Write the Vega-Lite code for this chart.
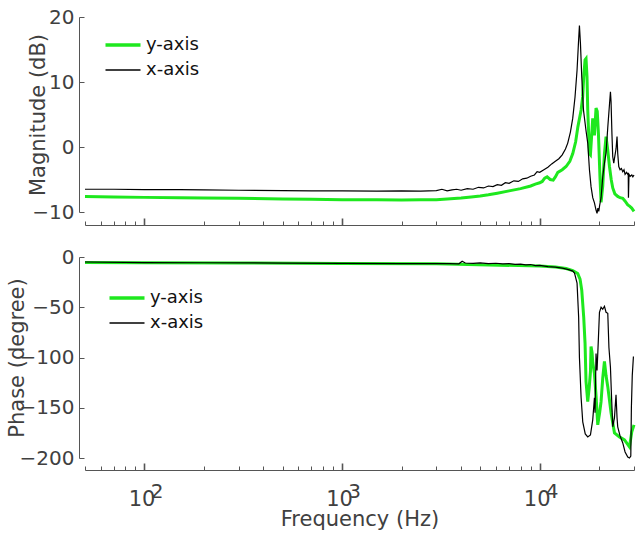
{
  "$schema": "https://vega.github.io/schema/vega-lite/v6.json",
  "padding": {"left": 6, "right": 1, "top": 7, "bottom": 2},
  "spacing": 21,
  "resolve": {"scale": {"color": "independent"}, "legend": {"color": "independent"}},
  "config": {
    "view": {"stroke": null},
    "font": "DejaVu Sans",
    "axis": {
      "grid": false,
      "domainColor": "#555555",
      "tickColor": "#555555",
      "labelColor": "#404040",
      "titleColor": "#404040",
      "labelFont": "DejaVu Sans",
      "titleFont": "DejaVu Sans",
      "titleFontWeight": "normal",
      "labelFontSize": 20,
      "titleFontSize": 21
    },
    "legend": {
      "orient": "none",
      "title": null,
      "symbolType": "stroke",
      "symbolSize": 1225,
      "labelFontSize": 18,
      "labelColor": "#111111",
      "labelFont": "DejaVu Sans",
      "padding": 0,
      "labelOffset": 14,
      "rowPadding": 7
    }
  },
  "datasets": {
    "mag": [
      {"s": "y-axis", "f": 50, "v": -7.6}, {"s": "y-axis", "f": 70, "v": -7.7}, {"s": "y-axis", "f": 100, "v": -7.75},
      {"s": "y-axis", "f": 150, "v": -7.8}, {"s": "y-axis", "f": 200, "v": -7.85}, {"s": "y-axis", "f": 300, "v": -7.9},
      {"s": "y-axis", "f": 500, "v": -8.0}, {"s": "y-axis", "f": 700, "v": -8.05}, {"s": "y-axis", "f": 1000, "v": -8.1},
      {"s": "y-axis", "f": 1500, "v": -8.1}, {"s": "y-axis", "f": 2000, "v": -8.15}, {"s": "y-axis", "f": 2500, "v": -8.1},
      {"s": "y-axis", "f": 3000, "v": -8.1}, {"s": "y-axis", "f": 3400, "v": -8.0}, {"s": "y-axis", "f": 4000, "v": -7.85},
      {"s": "y-axis", "f": 4500, "v": -7.7}, {"s": "y-axis", "f": 5000, "v": -7.55}, {"s": "y-axis", "f": 5500, "v": -7.35},
      {"s": "y-axis", "f": 6100, "v": -7.1}, {"s": "y-axis", "f": 7000, "v": -6.75}, {"s": "y-axis", "f": 8000, "v": -6.4},
      {"s": "y-axis", "f": 9000, "v": -6.0}, {"s": "y-axis", "f": 9500, "v": -5.7}, {"s": "y-axis", "f": 10000, "v": -5.5},
      {"s": "y-axis", "f": 10300, "v": -5.3}, {"s": "y-axis", "f": 10600, "v": -4.8}, {"s": "y-axis", "f": 10900, "v": -4.6},
      {"s": "y-axis", "f": 11300, "v": -5.0}, {"s": "y-axis", "f": 11700, "v": -5.1}, {"s": "y-axis", "f": 12000, "v": -4.6},
      {"s": "y-axis", "f": 12350, "v": -3.9}, {"s": "y-axis", "f": 13000, "v": -3.5}, {"s": "y-axis", "f": 13600, "v": -3.0},
      {"s": "y-axis", "f": 14200, "v": -2.2}, {"s": "y-axis", "f": 14700, "v": -1.0}, {"s": "y-axis", "f": 15200, "v": 0.8},
      {"s": "y-axis", "f": 15600, "v": 3.1}, {"s": "y-axis", "f": 16200, "v": 5.7}, {"s": "y-axis", "f": 16500, "v": 7.7},
      {"s": "y-axis", "f": 16700, "v": 10.8}, {"s": "y-axis", "f": 16960, "v": 13.4}, {"s": "y-axis", "f": 17155, "v": 13.6},
      {"s": "y-axis", "f": 17350, "v": 10.8}, {"s": "y-axis", "f": 17500, "v": 5.7}, {"s": "y-axis", "f": 17850, "v": -1.0},
      {"s": "y-axis", "f": 18060, "v": -1.2}, {"s": "y-axis", "f": 18550, "v": 4.4}, {"s": "y-axis", "f": 18920, "v": 1.8},
      {"s": "y-axis", "f": 19275, "v": 6.0}, {"s": "y-axis", "f": 19550, "v": 5.5}, {"s": "y-axis", "f": 19825, "v": 2.0},
      {"s": "y-axis", "f": 20200, "v": -5.0}, {"s": "y-axis", "f": 20440, "v": -8.5}, {"s": "y-axis", "f": 20845, "v": -6.0},
      {"s": "y-axis", "f": 21260, "v": -1.0}, {"s": "y-axis", "f": 21660, "v": 1.6}, {"s": "y-axis", "f": 22100, "v": -0.5},
      {"s": "y-axis", "f": 22540, "v": -3.0}, {"s": "y-axis", "f": 23000, "v": -5.0}, {"s": "y-axis", "f": 23420, "v": -6.3},
      {"s": "y-axis", "f": 24000, "v": -7.2}, {"s": "y-axis", "f": 24820, "v": -7.6}, {"s": "y-axis", "f": 25500, "v": -7.8},
      {"s": "y-axis", "f": 26320, "v": -7.9}, {"s": "y-axis", "f": 27000, "v": -8.3}, {"s": "y-axis", "f": 27900, "v": -8.9},
      {"s": "y-axis", "f": 28500, "v": -9.1}, {"s": "y-axis", "f": 29200, "v": -9.4}, {"s": "y-axis", "f": 30000, "v": -9.9},

      {"s": "x-axis", "f": 50, "v": -6.5}, {"s": "x-axis", "f": 70, "v": -6.5}, {"s": "x-axis", "f": 100, "v": -6.55},
      {"s": "x-axis", "f": 150, "v": -6.55}, {"s": "x-axis", "f": 200, "v": -6.6}, {"s": "x-axis", "f": 300, "v": -6.65},
      {"s": "x-axis", "f": 500, "v": -6.7}, {"s": "x-axis", "f": 700, "v": -6.75}, {"s": "x-axis", "f": 1000, "v": -6.75},
      {"s": "x-axis", "f": 1500, "v": -6.8}, {"s": "x-axis", "f": 2000, "v": -6.75}, {"s": "x-axis", "f": 2500, "v": -6.8},
      {"s": "x-axis", "f": 3000, "v": -6.7}, {"s": "x-axis", "f": 3200, "v": -6.5}, {"s": "x-axis", "f": 3400, "v": -6.75},
      {"s": "x-axis", "f": 3600, "v": -6.6}, {"s": "x-axis", "f": 3800, "v": -6.5}, {"s": "x-axis", "f": 4000, "v": -6.65},
      {"s": "x-axis", "f": 4300, "v": -6.4}, {"s": "x-axis", "f": 4600, "v": -6.5}, {"s": "x-axis", "f": 4900, "v": -6.2},
      {"s": "x-axis", "f": 5200, "v": -6.3}, {"s": "x-axis", "f": 5500, "v": -6.0}, {"s": "x-axis", "f": 5800, "v": -6.1},
      {"s": "x-axis", "f": 6100, "v": -5.8}, {"s": "x-axis", "f": 6400, "v": -5.9}, {"s": "x-axis", "f": 6700, "v": -5.5},
      {"s": "x-axis", "f": 7000, "v": -5.6}, {"s": "x-axis", "f": 7400, "v": -5.2}, {"s": "x-axis", "f": 7800, "v": -5.3},
      {"s": "x-axis", "f": 8200, "v": -4.9}, {"s": "x-axis", "f": 8600, "v": -4.8}, {"s": "x-axis", "f": 9000, "v": -4.5},
      {"s": "x-axis", "f": 9400, "v": -4.3}, {"s": "x-axis", "f": 9700, "v": -3.8}, {"s": "x-axis", "f": 10000, "v": -3.9},
      {"s": "x-axis", "f": 10500, "v": -3.5}, {"s": "x-axis", "f": 11000, "v": -3.1}, {"s": "x-axis", "f": 11500, "v": -2.6},
      {"s": "x-axis", "f": 12000, "v": -2.2}, {"s": "x-axis", "f": 12500, "v": -1.8}, {"s": "x-axis", "f": 13000, "v": -1.2},
      {"s": "x-axis", "f": 13500, "v": -0.3}, {"s": "x-axis", "f": 13861, "v": 0.6}, {"s": "x-axis", "f": 14300, "v": 2.3},
      {"s": "x-axis", "f": 14690, "v": 4.4}, {"s": "x-axis", "f": 15090, "v": 7.7}, {"s": "x-axis", "f": 15450, "v": 11.8},
      {"s": "x-axis", "f": 15700, "v": 15.9}, {"s": "x-axis", "f": 15885, "v": 18.7}, {"s": "x-axis", "f": 16075, "v": 15.9},
      {"s": "x-axis", "f": 16320, "v": 10.8}, {"s": "x-axis", "f": 16650, "v": 5.7}, {"s": "x-axis", "f": 17155, "v": 2.5},
      {"s": "x-axis", "f": 17500, "v": 0.6}, {"s": "x-axis", "f": 17850, "v": -3.5}, {"s": "x-axis", "f": 18185, "v": -6.1},
      {"s": "x-axis", "f": 18550, "v": -7.8}, {"s": "x-axis", "f": 18920, "v": -8.6}, {"s": "x-axis", "f": 19275, "v": -9.7},
      {"s": "x-axis", "f": 19505, "v": -10.2}, {"s": "x-axis", "f": 19700, "v": -9.4}, {"s": "x-axis", "f": 19900, "v": -9.9},
      {"s": "x-axis", "f": 20100, "v": -9.0}, {"s": "x-axis", "f": 20440, "v": -7.8}, {"s": "x-axis", "f": 20845, "v": -4.6},
      {"s": "x-axis", "f": 21260, "v": -2.5}, {"s": "x-axis", "f": 21660, "v": -0.9}, {"s": "x-axis", "f": 22100, "v": 3.0},
      {"s": "x-axis", "f": 22540, "v": 6.5}, {"s": "x-axis", "f": 22800, "v": 8.5}, {"s": "x-axis", "f": 22960, "v": 7.0},
      {"s": "x-axis", "f": 23200, "v": 2.0}, {"s": "x-axis", "f": 23420, "v": -1.5}, {"s": "x-axis", "f": 23700, "v": -2.5},
      {"s": "x-axis", "f": 23890, "v": -1.8}, {"s": "x-axis", "f": 24330, "v": -0.3}, {"s": "x-axis", "f": 24620, "v": 1.6},
      {"s": "x-axis", "f": 24820, "v": -1.0}, {"s": "x-axis", "f": 25120, "v": -3.0}, {"s": "x-axis", "f": 25500, "v": -3.5},
      {"s": "x-axis", "f": 25900, "v": -3.3}, {"s": "x-axis", "f": 26320, "v": -3.8}, {"s": "x-axis", "f": 26700, "v": -3.5},
      {"s": "x-axis", "f": 27040, "v": -4.2}, {"s": "x-axis", "f": 27500, "v": -3.9}, {"s": "x-axis", "f": 27900, "v": -4.2},
      {"s": "x-axis", "f": 28050, "v": -4.0}, {"s": "x-axis", "f": 28120, "v": -7.8}, {"s": "x-axis", "f": 28300, "v": -4.2},
      {"s": "x-axis", "f": 28700, "v": -4.5}, {"s": "x-axis", "f": 29240, "v": -4.3}, {"s": "x-axis", "f": 29600, "v": -4.6},
      {"s": "x-axis", "f": 30000, "v": -4.3}
    ],
    "phase": [
      {"s": "y-axis", "f": 50, "v": -5.5}, {"s": "y-axis", "f": 100, "v": -5.8}, {"s": "y-axis", "f": 300, "v": -6.0},
      {"s": "y-axis", "f": 1000, "v": -6.5}, {"s": "y-axis", "f": 3000, "v": -6.7}, {"s": "y-axis", "f": 10000, "v": -9.0},
      {"s": "y-axis", "f": 12000, "v": -10.0}, {"s": "y-axis", "f": 13600, "v": -11.5}, {"s": "y-axis", "f": 14700, "v": -13.5},
      {"s": "y-axis", "f": 15575, "v": -16.5}, {"s": "y-axis", "f": 16000, "v": -22}, {"s": "y-axis", "f": 16320, "v": -33},
      {"s": "y-axis", "f": 16700, "v": -60}, {"s": "y-axis", "f": 16960, "v": -86}, {"s": "y-axis", "f": 17155, "v": -124},
      {"s": "y-axis", "f": 17500, "v": -144}, {"s": "y-axis", "f": 17800, "v": -130}, {"s": "y-axis", "f": 18060, "v": -114},
      {"s": "y-axis", "f": 18185, "v": -89}, {"s": "y-axis", "f": 18400, "v": -95}, {"s": "y-axis", "f": 18550, "v": -105},
      {"s": "y-axis", "f": 18920, "v": -116}, {"s": "y-axis", "f": 19275, "v": -138}, {"s": "y-axis", "f": 19665, "v": -167},
      {"s": "y-axis", "f": 20100, "v": -155}, {"s": "y-axis", "f": 20440, "v": -144}, {"s": "y-axis", "f": 20850, "v": -120},
      {"s": "y-axis", "f": 21260, "v": -104}, {"s": "y-axis", "f": 21660, "v": -118}, {"s": "y-axis", "f": 22100, "v": -129},
      {"s": "y-axis", "f": 22960, "v": -155}, {"s": "y-axis", "f": 23890, "v": -175}, {"s": "y-axis", "f": 25320, "v": -179},
      {"s": "y-axis", "f": 26850, "v": -182}, {"s": "y-axis", "f": 28460, "v": -189}, {"s": "y-axis", "f": 29240, "v": -174},
      {"s": "y-axis", "f": 30000, "v": -167},

      {"s": "x-axis", "f": 50, "v": -5.0}, {"s": "x-axis", "f": 100, "v": -5.5}, {"s": "x-axis", "f": 200, "v": -5.7},
      {"s": "x-axis", "f": 500, "v": -6.0}, {"s": "x-axis", "f": 1000, "v": -6.3}, {"s": "x-axis", "f": 2000, "v": -6.5},
      {"s": "x-axis", "f": 3000, "v": -6.5}, {"s": "x-axis", "f": 3500, "v": -6.5}, {"s": "x-axis", "f": 3900, "v": -6.8},
      {"s": "x-axis", "f": 4050, "v": -4.2}, {"s": "x-axis", "f": 4200, "v": -6.0}, {"s": "x-axis", "f": 4600, "v": -6.3},
      {"s": "x-axis", "f": 5000, "v": -5.8}, {"s": "x-axis", "f": 5500, "v": -6.6}, {"s": "x-axis", "f": 6000, "v": -6.2},
      {"s": "x-axis", "f": 6500, "v": -6.9}, {"s": "x-axis", "f": 7000, "v": -6.5}, {"s": "x-axis", "f": 7500, "v": -7.3},
      {"s": "x-axis", "f": 8000, "v": -7.0}, {"s": "x-axis", "f": 8500, "v": -7.8}, {"s": "x-axis", "f": 9000, "v": -7.5},
      {"s": "x-axis", "f": 9500, "v": -8.5}, {"s": "x-axis", "f": 10000, "v": -8.3}, {"s": "x-axis", "f": 11000, "v": -9.5},
      {"s": "x-axis", "f": 12000, "v": -10}, {"s": "x-axis", "f": 13000, "v": -11}, {"s": "x-axis", "f": 14000, "v": -12.5},
      {"s": "x-axis", "f": 14700, "v": -14}, {"s": "x-axis", "f": 15000, "v": -16}, {"s": "x-axis", "f": 15450, "v": -26},
      {"s": "x-axis", "f": 15740, "v": -60}, {"s": "x-axis", "f": 15885, "v": -100}, {"s": "x-axis", "f": 16200, "v": -140},
      {"s": "x-axis", "f": 16510, "v": -164}, {"s": "x-axis", "f": 17000, "v": -176}, {"s": "x-axis", "f": 17500, "v": -179},
      {"s": "x-axis", "f": 18060, "v": -177}, {"s": "x-axis", "f": 18550, "v": -162}, {"s": "x-axis", "f": 18920, "v": -140},
      {"s": "x-axis", "f": 19055, "v": -155}, {"s": "x-axis", "f": 19275, "v": -96}, {"s": "x-axis", "f": 19505, "v": -113},
      {"s": "x-axis", "f": 19825, "v": -80}, {"s": "x-axis", "f": 20060, "v": -55}, {"s": "x-axis", "f": 20440, "v": -50},
      {"s": "x-axis", "f": 20845, "v": -52}, {"s": "x-axis", "f": 21260, "v": -49}, {"s": "x-axis", "f": 21660, "v": -55},
      {"s": "x-axis", "f": 22100, "v": -56}, {"s": "x-axis", "f": 22400, "v": -90}, {"s": "x-axis", "f": 22800, "v": -110},
      {"s": "x-axis", "f": 23100, "v": -140}, {"s": "x-axis", "f": 23420, "v": -169}, {"s": "x-axis", "f": 23890, "v": -160},
      {"s": "x-axis", "f": 24330, "v": -137}, {"s": "x-axis", "f": 24620, "v": -160}, {"s": "x-axis", "f": 24820, "v": -169},
      {"s": "x-axis", "f": 25500, "v": -178}, {"s": "x-axis", "f": 26320, "v": -185}, {"s": "x-axis", "f": 27040, "v": -194},
      {"s": "x-axis", "f": 27900, "v": -199}, {"s": "x-axis", "f": 28460, "v": -200}, {"s": "x-axis", "f": 28900, "v": -198},
      {"s": "x-axis", "f": 29100, "v": -150}, {"s": "x-axis", "f": 29400, "v": -118}, {"s": "x-axis", "f": 29800, "v": -99}
    ]
  },
  "vconcat": [
    {
      "width": 549,
      "height": 195,
      "data": {"name": "mag"},
      "encoding": {
        "x": {
          "field": "f", "type": "quantitative",
          "scale": {"type": "log", "domain": [50, 30000]},
          "axis": {
            "title": null, "labels": false, "offset": 13,
            "values": [50,60,70,80,90,100,200,300,400,500,600,700,800,900,1000,2000,3000,4000,5000,6000,7000,8000,9000,10000,20000,30000],
            "tickSize": {"condition": {"test": "datum.value == 100 || datum.value == 1000 || datum.value == 10000", "value": -7}, "value": -4},
            "tickWidth": {"condition": {"test": "datum.value == 100 || datum.value == 1000 || datum.value == 10000", "value": 1.6}, "value": 1}
          }
        },
        "y": {
          "field": "v", "type": "quantitative",
          "scale": {"domain": [-10, 20], "nice": false, "zero": false},
          "axis": {"values": [-10, 0, 10, 20], "offset": 6, "tickSize": -5, "labelPadding": 10, "title": "Magnitude (dB)", "titlePadding": -17}
        },
        "color": {
          "field": "s", "type": "nominal",
          "scale": {"domain": ["y-axis", "x-axis"], "range": ["#1ee81e", "#000000"]},
          "legend": {
            "legendX": 29, "legendY": 19,
            "encode": {"symbols": {"update": {"strokeWidth": {"signal": "datum.value === 'y-axis' ? 3.5 : 1.3"}}}}
          }
        }
      },
      "layer": [
        {"transform": [{"filter": "datum.s === 'y-axis'"}], "mark": {"type": "line", "strokeWidth": 3}},
        {"transform": [{"filter": "datum.s === 'x-axis'"}], "mark": {"type": "line", "strokeWidth": 1.2}}
      ]
    },
    {
      "width": 549,
      "height": 201,
      "data": {"name": "phase"},
      "resolve": {"axis": {"x": "independent"}},
      "layer": [
        {
          "transform": [{"filter": "datum.s === 'y-axis'"}],
          "mark": {"type": "line", "strokeWidth": 3},
          "encoding": {
            "x": {
              "field": "f", "type": "quantitative",
              "scale": {"type": "log", "domain": [50, 30000]},
              "axis": {
                "orient": "bottom", "title": "Frequency (Hz)", "titleFontSize": 21, "titlePadding": -4, "offset": 12,
                "values": [50,60,70,80,90,100,200,300,400,500,600,700,800,900,1000,2000,3000,4000,5000,6000,7000,8000,9000,10000,20000,30000],
                "labelExpr": "datum.value == 100 || datum.value == 1000 || datum.value == 10000 ? '10' : ''",
                "labelFontSize": 21, "labelPadding": 25.5, "labelOffset": -3, "labelOverlap": false, "labelFlush": false,
                "tickSize": {"condition": {"test": "datum.value == 100 || datum.value == 1000 || datum.value == 10000", "value": -7}, "value": -4},
                "tickWidth": {"condition": {"test": "datum.value == 100 || datum.value == 1000 || datum.value == 10000", "value": 1.6}, "value": 1}
              }
            },
            "y": {
              "field": "v", "type": "quantitative",
              "scale": {"domain": [-200, 0], "nice": false, "zero": false},
              "axis": {"values": [-200, -150, -100, -50, 0], "offset": 6, "tickSize": -5, "labelPadding": 10, "title": "Phase (degree)", "titlePadding": -8}
            },
            "color": {
              "field": "s", "type": "nominal",
              "scale": {"domain": ["y-axis", "x-axis"], "range": ["#1ee81e", "#000000"]},
              "legend": {
                "legendX": 33, "legendY": 32,
                "encode": {"symbols": {"update": {"strokeWidth": {"signal": "datum.value === 'y-axis' ? 3.5 : 1.3"}}}}
              }
            }
          }
        },
        {
          "transform": [{"filter": "datum.s === 'x-axis'"}],
          "mark": {"type": "line", "strokeWidth": 1.2},
          "encoding": {
            "x": {
              "field": "f", "type": "quantitative",
              "scale": {"type": "log", "domain": [50, 30000]},
              "axis": {
                "orient": "bottom", "title": null, "offset": 12, "domain": false, "ticks": false,
                "values": [100, 1000, 10000],
                "labelExpr": "datum.value == 100 ? '2' : datum.value == 1000 ? '3' : '4'",
                "labelFontSize": 20, "labelPadding": 11, "labelOffset": 12, "labelOverlap": false, "labelFlush": false
              }
            },
            "y": {"field": "v", "type": "quantitative"},
            "color": {"field": "s", "type": "nominal"}
          }
        }
      ]
    }
  ]
}
